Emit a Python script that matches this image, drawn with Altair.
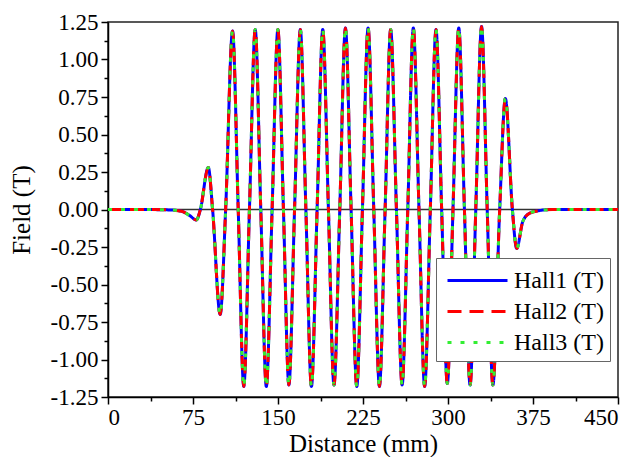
import altair as alt
import pandas as pd

# Readings from the reference (distance in mm, field in T): peaks, troughs and zero crossings
distance = [0, 30, 55, 65, 72, 78, 81.5, 88.5, 92.3, 99, 103.8, 109.9, 114.9, 119.8, 124.8,
            129.9, 134.8, 139.7, 144.8, 149.9, 154.8, 159.6, 164.6, 169.7, 174.6, 179.5,
            184.5, 189.5, 194.5, 199.4, 204.5, 209.5, 214.5, 219.5, 224.5, 229.5, 234.5,
            239.5, 244.5, 249.4, 254.5, 259.5, 264.5, 269.4, 274.4, 279.4, 284.4, 289.4,
            294.4, 299.4, 304.4, 309.5, 314.5, 319.5, 324.5, 329.6, 334.6, 339.6, 345.6,
            350.6, 356.8, 360.6, 366, 372, 380, 392, 420, 450]
hall1 = [0, 0, -0.003, -0.012, -0.04, -0.07, 0, 0.28, 0, -0.70, 0, 1.19, 0, -1.18, 0,
         1.20, 0, -1.18, 0, 1.20, 0, -1.17, 0, 1.20, 0, -1.18,
         0, 1.20, 0, -1.17, 0, 1.21, 0, -1.18, 0, 1.21, 0,
         -1.18, 0, 1.20, 0, -1.17, 0, 1.21, 0, -1.18, 0, 1.20,
         0, -1.16, 0, 1.21, 0, -1.17, 0, 1.22, 0, -1.17, 0,
         0.74, 0, -0.26, -0.08, -0.025, -0.008, 0, 0, 0]
hall2 = list(hall1)
hall3 = list(hall1)
series = ["Hall1 (T)", "Hall2 (T)", "Hall3 (T)"]
colors = ["#0000FF", "#FF0000", "#33EE33"]
dashes = [[1, 0], [14, 8], [4, 9]]

x_ticks = [0, 75, 150, 225, 300, 375, 450]
x_minor = [37.5, 112.5, 187.5, 262.5, 337.5, 412.5]
y_ticks = [-1.25, -1.0, -0.75, -0.5, -0.25, 0.0, 0.25, 0.5, 0.75, 1.0, 1.25]
y_minor = [-1.125, -0.875, -0.625, -0.375, -0.125, 0.125, 0.375, 0.625, 0.875, 1.125]

rows = []
for name, vals in zip(series, [hall1, hall2, hall3]):
    for d, v in zip(distance, vals):
        rows.append({"distance": d, "field": v, "series": name})
df = pd.DataFrame(rows)

zero_df = pd.DataFrame({"x0": [0], "x1": [450], "y": [0]})

FONT = "Liberation Serif"
xscale = alt.Scale(domain=[0, 450], nice=False, zero=False)
yscale = alt.Scale(domain=[-1.25, 1.25], nice=False, zero=False)

common_axis = dict(labelFont=FONT, titleFont=FONT, labelColor="black", titleColor="black",
                   tickColor="black", domainColor="black", grid=False,
                   titleFontWeight="normal")

x_major = alt.Axis(values=x_ticks, orient="bottom", title="Distance (mm)", format="d",
                   tickSize=7, tickWidth=1.5, domainWidth=1.5, labelFontSize=23,
                   titleFontSize=25, labelPadding=2, titlePadding=2, **common_axis)
y_major = alt.Axis(values=y_ticks, orient="left", title="Field (T)", tickSize=7,
                   tickWidth=1.5, domainWidth=1.5, labelFontSize=23, titleFontSize=25,
                   labelPadding=3, titlePadding=16,
                   labelExpr="datum.value < 0 ? '-' + format(-datum.value, '.2f') : format(datum.value, '.2f')",
                   **common_axis)
x_min_axis = alt.Axis(values=x_minor, orient="bottom", title=None, labels=False, domain=False,
                      tickSize=4, tickWidth=1.5, tickColor="black", grid=False)
y_min_axis = alt.Axis(values=y_minor, orient="left", title=None, labels=False, domain=False,
                      tickSize=4, tickWidth=1.5, tickColor="black", grid=False)

zero_rule = alt.Chart(zero_df).mark_rule(color="#333333", strokeWidth=1.5).encode(
    x=alt.X("x0:Q", scale=xscale, axis=x_min_axis),
    x2="x1:Q",
    y=alt.Y("y:Q", scale=yscale, axis=y_min_axis),
)

legend = alt.Legend(title=None, orient="none", legendX=328, legendY=236, symbolType="M-2,0H2",
                    symbolSize=900, symbolStrokeWidth=3, symbolOffset=19, labelFont=FONT,
                    labelFontSize=24, labelColor="black", strokeColor="#666666",
                    fillColor="white", padding=6, rowPadding=2, labelOffset=20, labelLimit=0,
                    cornerRadius=0)

lines = alt.Chart(df).mark_line(strokeWidth=3, interpolate="monotone", clip=True).encode(
    x=alt.X("distance:Q", scale=xscale, axis=x_major),
    y=alt.Y("field:Q", scale=yscale, axis=y_major),
    color=alt.Color("series:N", scale=alt.Scale(domain=series, range=colors), legend=legend),
    strokeDash=alt.StrokeDash("series:N", scale=alt.Scale(domain=series, range=dashes), legend=legend),
    order=alt.Order("distance:Q"),
)

chart = alt.layer(zero_rule, lines).resolve_axis(x="independent", y="independent").properties(
    width=510, height=375,
    autosize=alt.AutoSizeParams(type="none"),
    padding={"left": 100, "top": 14, "right": 12, "bottom": 60},
    background="white",
).configure(font=FONT).configure_view(stroke="#222222", strokeWidth=1.5)

chart.save("out.html", embed_options={"renderer": "svg", "actions": False})
